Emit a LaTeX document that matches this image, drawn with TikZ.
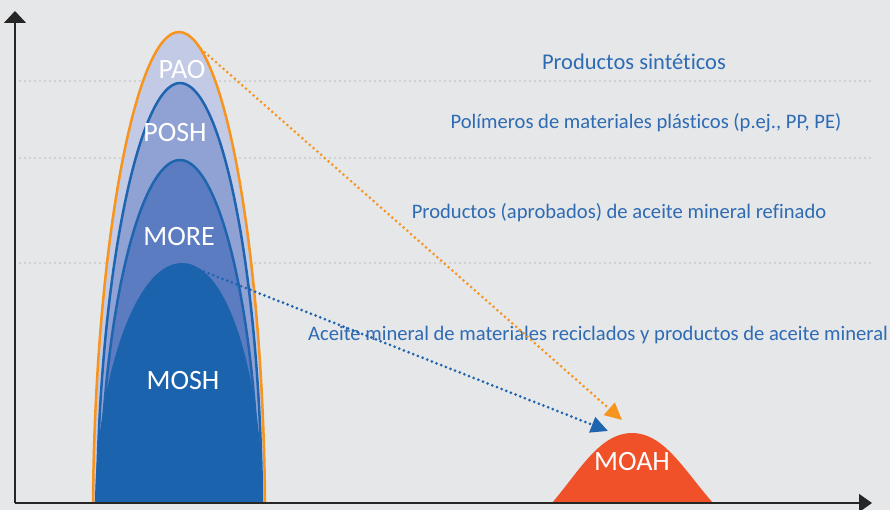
\documentclass[tikz,border=0pt]{standalone}
\usepackage{fontspec}
\setmainfont{Carlito}[Ligatures=CommonOff]
\usetikzlibrary{arrows.meta}
\definecolor{fondo}{HTML}{E6E7E9}
\definecolor{guia}{HTML}{C9CACC}
\definecolor{naranja}{HTML}{F7941D}
\definecolor{azul}{HTML}{1F64AF}
\definecolor{texto}{HTML}{2E6BB3}
\definecolor{pao}{HTML}{C2CAE6}
\definecolor{posh}{HTML}{8FA2D3}
\definecolor{more}{HTML}{5B7CC0}
\definecolor{mosh}{HTML}{1C63AE}
\definecolor{moah}{HTML}{F15128}
% campana: base izq, base der, centro, cima
\newcommand{\campana}[4]{(#1,503) .. controls ({#1+0.023*(#3-#1)},{503-0.537*(503-#4)}) and ({#3-0.51*(#3-#1)},#4) .. (#3,#4)
  .. controls ({#3+0.51*(#2-#3)},#4) and ({#2-0.023*(#2-#3)},{503-0.537*(503-#4)}) .. (#2,503) -- cycle}
\tikzset{
  etiqueta/.style={text=white, font=\fontsize{28}{30}\selectfont, inner sep=0pt},
  leyenda/.style={text=texto, font=\fontsize{20.6}{23}\selectfont, inner sep=0pt},
  punteado/.style={line width=3pt, line cap=round, dash pattern=on 0pt off 5pt},
  flecha/.style={-{Triangle[length=17pt, width=16pt]}}
}
\begin{document}
\begin{tikzpicture}[x=1pt, y=-1pt, line join=round]
\fill[fondo] (0,0) rectangle (890,510);
\useasboundingbox (0,0) rectangle (890,510);
\foreach \y in {81,158,263}{
  \draw[guia, line width=2.2pt, line cap=round, dash pattern=on 0pt off 5pt] (20,\y) -- (870,\y);
}
\fill[pao] \campana{93}{265}{179}{32};
\fill[posh] \campana{97}{262}{180}{83};
\draw[azul, line width=2.5pt] (97,503) .. controls (98.9,277) and (139,83) .. (180,83) .. controls (222.6,83) and (260.2,277) .. (262,503);
\fill[more] \campana{100}{259}{180}{160};
\draw[azul, line width=2.5pt] (100,503) .. controls (101.8,319) and (139.2,160) .. (180,160) .. controls (220.3,160) and (257.2,319) .. (259,503);
\fill[mosh] (95,503) .. controls (96,390) and (132,263) .. (182,263) .. controls (232,263) and (262,390) .. (263,503) -- cycle;
\draw[naranja, line width=2.5pt] (93,503) .. controls (95,250) and (135,32) .. (179,32) .. controls (223.9,32) and (263,250) .. (265,503);
\fill[moah] (552,503) .. controls (580,470) and (600,433) .. (632,433) .. controls (664,433) and (684,470) .. (713,503) -- cycle;
\path
  (179,32) coordinate (cima)
  (201,49) coordinate (pao-sal)
  (190,266) coordinate (mosh-sal)
  (622,420) coordinate (moah-n)
  (608,431) coordinate (moah-a)
  (15,503) coordinate (origen)
  (15,11) coordinate (eje-y)
  (872,503) coordinate (eje-x);
\node[etiqueta] (PAO) at (182,70) {PAO};
\node[etiqueta] (POSH) at (175,133) {POSH};
\node[etiqueta] (MORE) at (179,237) {MORE};
\node[etiqueta] (MOSH) at (183,381) {MOSH};
\node[etiqueta] (MOAH) at (632,462) {MOAH};
\node[leyenda, font=\fontsize{22.5}{25}\selectfont] (sint) at (634,62) {Productos sintéticos};
\node[leyenda] (poli) at (646,123) {Polímeros de materiales plásticos (p.ej., PP, PE)};
\node[leyenda] (refi) at (619,213) {Productos (aprobados) de aceite mineral refinado};
\node[leyenda] (reci) at (598,335) {Aceite mineral de materiales reciclados y productos de aceite mineral};
\draw[naranja, punteado, flecha] (pao-sal) -- (moah-n);
\draw[azul, punteado, flecha] (mosh-sal) -- (moah-a);
\draw[black!85, line width=1.5pt, -{Triangle[length=12pt, width=22pt]}] (origen) -- (eje-y);
\draw[black!85, line width=1.5pt, -{Triangle[length=13pt, width=18pt]}] (origen) -- (eje-x);
\end{tikzpicture}
\end{document}
